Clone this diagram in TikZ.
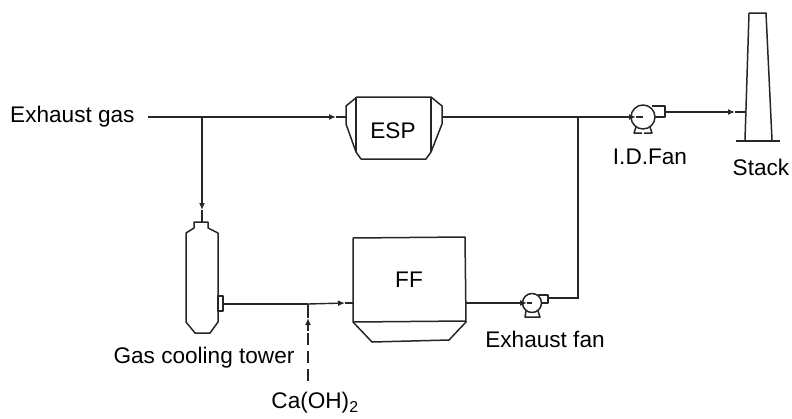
\documentclass[tikz,border=0pt]{standalone}
\usepackage{fontspec}
\setmainfont{Liberation Sans}
\usetikzlibrary{arrows.meta}

\begin{document}
\begin{tikzpicture}[x=1pt, y=-1pt]
        \tikzstyle{every node}=[inner sep=0pt, font=\fontsize{22.6}{26}\selectfont]
        \tikzstyle{pipe}=[line width=1.4pt, color=black!85]
        \tikzstyle{flow}=[pipe, -{Latex[length=7pt, width=6pt]}]
        \tikzstyle{unit}=[line width=1.5pt, color=black!85, line join=round]

        \useasboundingbox (0,0) rectangle (792,418);

        % labels
        \node (gas)   [anchor=west] at (10,117)  {Exhaust gas};
        \node (esp)   at (393,131) {ESP};
        \node (ff)    at (409,280) {FF};
        \node (idfan) at (650,157) {I.D.Fan};
        \node (stack) at (761,167) {Stack};
        \node (tower) at (204,358) {Gas cooling tower};
        \node (exfan) at (545,339) {Exhaust fan};
        \node (caoh)  at (315,403) {Ca(OH)\textsubscript{2}};

        % ESP
        \draw[unit] (357,97) -- (431,97) -- (442,106) -- (442,124) -- (431,152) -- (426,159)
            -- (361,159) -- (356,152) -- (346,124) -- (346,106) -- cycle;
        \draw[unit] (356,97) -- (356,152);
        \draw[unit] (431,97) -- (431,152);

        % stack
        \draw[unit] (749,13) -- (766,13) -- (772,140);
        \draw[unit] (749,13) -- (745,140);
        \draw[unit] (736,141) -- (780,141);

        % gas cooling tower
        \draw[unit] (194,222) -- (208,222) -- (208,228) -- (218,233) -- (218,322) -- (210,333)
            -- (195,333) -- (186,322) -- (186,233) -- (194,228) -- cycle;
        \draw[unit] (218,296) rectangle (223,311);

        % FF
        \draw[unit] (353,238) -- (465,237) -- (466,322) -- (449,340) -- (372,342) -- (353,322) -- cycle;
        \draw[unit] (353,322) -- (466,321);

        % I.D. fan
        \draw[unit] (643,117) circle (12);
        \draw[unit] (652,106) -- (665,106) -- (665,117) -- (655,117);
        \draw[unit] (636,127) -- (634,133) -- (642,133);
        \draw[unit] (650,127) -- (652,133) -- (644,133);

        % exhaust fan
        \draw[unit] (532,303) circle (9.5);
        \draw[unit] (538,295) -- (548,295) -- (548,303) -- (541,303);
        \draw[unit] (526,311) -- (525,317) -- (540,317) -- (538,311);

        \coordinate (gas end)   at (148,117);
        \coordinate (tee top)   at (202,117);
        \coordinate (esp in)    at (346,117);
        \coordinate (esp tip)   at (336,117);
        \coordinate (esp out)   at (442,117);
        \coordinate (tee right) at (578,117);
        \coordinate (idfan tip) at (636,117);
        \coordinate (idfan mid) at (643,117);
        \coordinate (idfan out) at (665,112);
        \coordinate (stack tip) at (735,112);
        \coordinate (stack in)  at (745,112);
        \coordinate (tower tip) at (202,210);
        \coordinate (tower in)  at (202,222);
        \coordinate (tower out) at (223,304);
        \coordinate (tee low)   at (308,304);
        \coordinate (ff tip)    at (345,303);
        \coordinate (ff in)     at (353,303);
        \coordinate (ff out)    at (466,303);
        \coordinate (exfan tip) at (527,303);
        \coordinate (exfan mid) at (532,303);
        \coordinate (exfan out) at (548,298);
        \coordinate (exfan end) at (578,298);
        \coordinate (ca tip)    at (308,318);
        \coordinate (ca dash)   at (308,331);
        \coordinate (ca end)    at (308,381);

        % flow lines
        \draw[flow] (gas end) -- (esp tip);
        \draw[pipe] (esp tip) -- (esp in);
        \draw[flow] (esp out) -- (idfan tip);
        \draw[pipe] (idfan tip) -- (idfan mid);
        \draw[flow] (idfan out) -- (stack tip);
        \draw[pipe] (stack tip) -- (stack in);
        \draw[flow] (tee top) -- (tower tip);
        \draw[pipe] (tower tip) -- (tower in);
        \draw[pipe] (tower out) -- (tee low);
        \draw[flow] (tee low) -- (ff tip);
        \draw[pipe] (ff tip) -- (ff in);
        \draw[flow] (ff out) -- (exfan tip);
        \draw[pipe] (exfan tip) -- (exfan mid);
        \draw[pipe] (exfan out) -- (exfan end) -- (tee right);
        \draw[pipe] (tee low) -- (ca tip);
        \draw[flow] (ca dash) -- (ca tip);
        \draw[pipe, dash pattern=on 12pt off 6pt] (ca end) -- (ca dash);
    \end{tikzpicture}
\end{document}
